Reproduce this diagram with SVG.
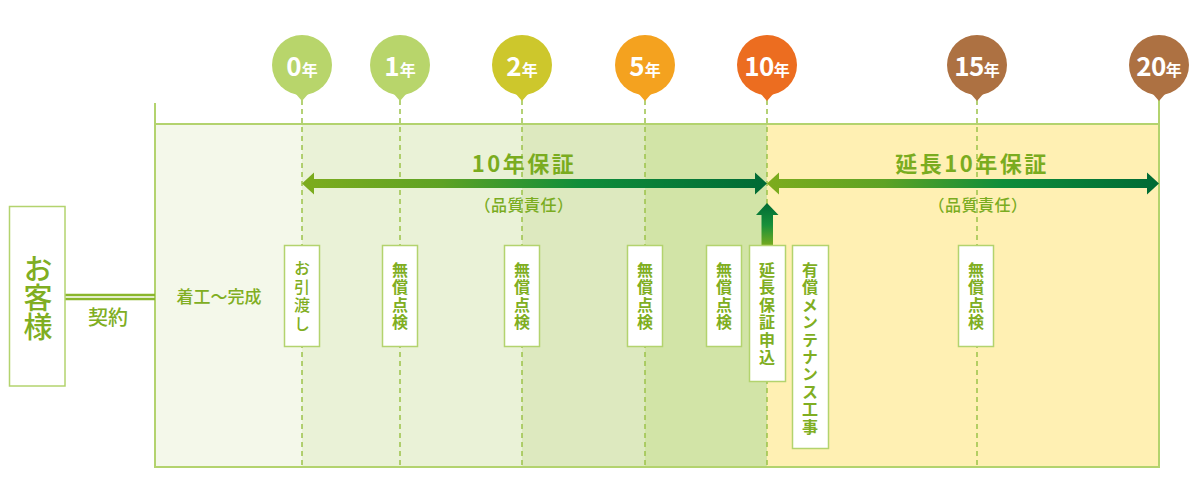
<svg xmlns="http://www.w3.org/2000/svg" width="1200" height="503" viewBox="0 0 1200 503">
<style>
text{font-family:"Noto Sans CJK JP","Noto Sans",sans-serif;}
.frame{stroke:#b3d36e;stroke-width:2;fill:none;}
.dash{stroke:#9cc24a;stroke-width:1.5;stroke-dasharray:5 4;fill:none;}
.box{fill:#fff;stroke:#b3d36e;stroke-width:1.5;}
.vt{fill:#80ae22;font-size:16px;writing-mode:vertical-rl;font-weight:500;letter-spacing:2.5px;}
.vtb{fill:#80ae22;font-size:16px;writing-mode:vertical-rl;font-weight:bold;letter-spacing:1.4px;}
.pin{fill:#fff;font-weight:bold;text-anchor:middle;}
.gt{fill:#7aac1f;text-anchor:middle;}
</style>
<defs>
<linearGradient id="gh" x1="0" y1="0" x2="1" y2="0">
<stop offset="0" stop-color="#7dac1d"/>
<stop offset="0.3" stop-color="#5ea224"/>
<stop offset="0.6" stop-color="#0f8d3a"/>
<stop offset="1" stop-color="#006a35"/>
</linearGradient>
<linearGradient id="gv" x1="0" y1="0" x2="0" y2="1">
<stop offset="0" stop-color="#006a35"/>
<stop offset="0.5" stop-color="#17903a"/>
<stop offset="1" stop-color="#7dac1d"/>
</linearGradient>
</defs>

<g id="zones">
<rect x="155" y="124" width="147" height="343" fill="#f4f8ea"/>
<rect x="302" y="124" width="220" height="343" fill="#eaf2d7"/>
<rect x="522" y="124" width="123" height="343" fill="#dde9bf"/>
<rect x="645" y="124" width="122" height="343" fill="#d2e4a7"/>
<rect x="767" y="124" width="392" height="343" fill="#fff0b3"/>
<path class="frame" d="M155,103 V467 H1159 V100 M155,124 H1159"/>
</g>

<g id="connectors">
<path class="dash" d="M302,100 V467"/>
<path class="dash" d="M400,100 V467"/>
<path class="dash" d="M522,100 V467"/>
<path class="dash" d="M645,100 V467"/>
<path class="dash" d="M767,100 V467"/>
<path class="dash" d="M977,100 V467"/>
<path d="M65,295 H155 M65,299 H155" stroke="#8ab62c" stroke-width="2.5" fill="none"/>
<path d="M302,183.5 L314,172.5 L314,179 L755,179 L755,172.5 L767,183.5 L755,194.5 L755,188 L314,188 L314,194.5 Z" fill="url(#gh)"/>
<path d="M767,183.5 L779,172.5 L779,179 L1147,179 L1147,172.5 L1159,183.5 L1147,194.5 L1147,188 L779,188 L779,194.5 Z" fill="url(#gh)"/>
<path d="M767,203 L778.5,215 L773,215 L773,247 L761.5,247 L761.5,215 L756,215 Z" fill="url(#gv)"/>
</g>

<g id="pin-0"><circle cx="302" cy="65" r="30" fill="#b8d56b"/><path d="M295,93 L309,93 L302,101 Z" fill="#b8d56b"/><text class="pin" x="302" y="76"><tspan font-size="26">0</tspan><tspan font-size="16">年</tspan></text></g>
<g id="pin-1"><circle cx="400" cy="65" r="30" fill="#b8d56b"/><path d="M393,93 L407,93 L400,101 Z" fill="#b8d56b"/><text class="pin" x="400" y="76"><tspan font-size="26">1</tspan><tspan font-size="16">年</tspan></text></g>
<g id="pin-2"><circle cx="522" cy="65" r="30" fill="#cdc72c"/><path d="M515,93 L529,93 L522,101 Z" fill="#cdc72c"/><text class="pin" x="522" y="76"><tspan font-size="26">2</tspan><tspan font-size="16">年</tspan></text></g>
<g id="pin-5"><circle cx="645" cy="65" r="30" fill="#f4a21f"/><path d="M638,93 L652,93 L645,101 Z" fill="#f4a21f"/><text class="pin" x="645" y="76"><tspan font-size="26">5</tspan><tspan font-size="16">年</tspan></text></g>
<g id="pin-10"><circle cx="767" cy="65" r="30" fill="#ec6d20"/><path d="M760,93 L774,93 L767,101 Z" fill="#ec6d20"/><text class="pin" x="767" y="76"><tspan font-size="26" letter-spacing="-0.5">10</tspan><tspan font-size="16">年</tspan></text></g>
<g id="pin-15"><circle cx="977" cy="65" r="30" fill="#ad7142"/><path d="M970,93 L984,93 L977,101 Z" fill="#ad7142"/><text class="pin" x="977" y="76"><tspan font-size="26" letter-spacing="-0.5">15</tspan><tspan font-size="16">年</tspan></text></g>
<g id="pin-20"><circle cx="1159" cy="65" r="30" fill="#ad7142"/><path d="M1152,93 L1166,93 L1159,101 Z" fill="#ad7142"/><text class="pin" x="1159" y="76"><tspan font-size="26" letter-spacing="-0.5">20</tspan><tspan font-size="16">年</tspan></text></g>

<g id="label-warranty">
<text class="gt" x="524" y="172" font-size="22" font-weight="bold" letter-spacing="2.5">10年保証</text>
<text class="gt" x="524" y="211" font-size="16" font-weight="500" letter-spacing="0.5">（品質責任）</text>
</g>
<g id="label-extended">
<text class="gt" x="972" y="172" font-size="22" font-weight="bold" letter-spacing="2.5">延長10年保証</text>
<text class="gt" x="978" y="211" font-size="16" font-weight="500" letter-spacing="0.5">（品質責任）</text>
</g>

<g id="customer">
<rect class="box" x="9.5" y="206.5" width="55.5" height="179.5"/>
<text fill="#80ae22" font-size="29" font-weight="500" x="38" y="254" style="writing-mode:vertical-rl;letter-spacing:0">お客様</text>
</g>
<g id="label-contract"><text fill="#80ae22" font-size="20" font-weight="500" text-anchor="middle" x="108" y="325">契約</text></g>
<g id="label-construction"><text fill="#80ae22" font-size="17" font-weight="500" text-anchor="middle" x="219" y="303">着工～完成</text></g>

<g id="handover">
<rect class="box" x="284.5" y="245.5" width="35" height="101"/>
<text class="vt" x="302" y="260">お引渡し</text>
</g>
<g id="inspect-1">
<rect class="box" x="382.5" y="245.5" width="35" height="101"/>
<text class="vtb" x="400" y="262">無償点検</text>
</g>
<g id="inspect-2">
<rect class="box" x="504.5" y="245.5" width="35" height="101"/>
<text class="vtb" x="522" y="262">無償点検</text>
</g>
<g id="inspect-5">
<rect class="box" x="627.5" y="245.5" width="35" height="101"/>
<text class="vtb" x="645" y="262">無償点検</text>
</g>
<g id="inspect-9">
<rect class="box" x="706.5" y="245.5" width="35" height="101"/>
<text class="vtb" x="724" y="262">無償点検</text>
</g>
<g id="extension-apply">
<rect class="box" x="749.5" y="245.5" width="36" height="136"/>
<text class="vtb" x="767" y="262">延長保証申込</text>
</g>
<g id="paid-maintenance">
<rect class="box" x="792.5" y="245.5" width="36" height="203"/>
<text class="vtb" x="810" y="262">有償メンテナンス工事</text>
</g>
<g id="inspect-15">
<rect class="box" x="958.5" y="245.5" width="35" height="101"/>
<text class="vtb" x="976" y="262">無償点検</text>
</g>
</svg>
